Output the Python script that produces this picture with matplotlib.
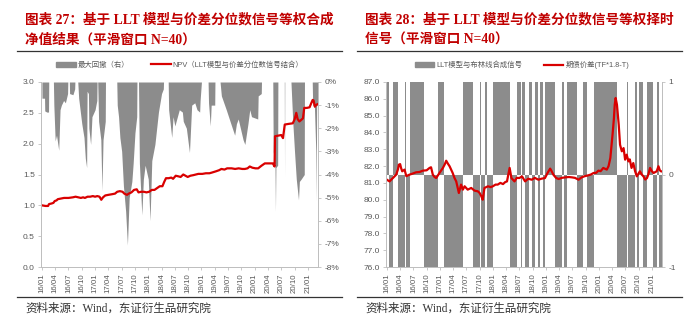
import numpy as np
import matplotlib.pyplot as plt
from matplotlib.patches import Patch
from matplotlib.lines import Line2D

plt.rcParams['font.family'] = ['Liberation Sans', 'Noto Sans CJK SC']

# x positions are months since 2016/01
tick_pos = [0, 3, 6, 9, 12, 15, 18, 21, 24, 27, 30, 33, 36, 39, 42, 45, 48, 51, 54, 57, 60]
tick_labels = ['16/01', '16/04', '16/07', '16/10', '17/01', '17/04', '17/07', '17/10',
               '18/01', '18/04', '18/07', '18/10', '19/01', '19/04', '19/07', '19/10',
               '20/01', '20/04', '20/07', '20/10', '21/01']

# chart 27: NPV
npv_t = [0.0, 0.8, 1.4, 1.6, 2.2, 2.6, 2.9, 3.3, 3.6, 4.3, 5.0, 6.0, 7.0, 7.6, 8.2, 8.8, 9.3, 9.7,
         10.3, 10.9, 11.5, 12.0, 12.5, 13.0, 13.4, 13.8, 14.3, 15.0, 15.8, 16.5, 17.0, 17.6, 18.2,
         18.6, 19.2, 19.6, 20.2, 20.8, 21.4, 21.8, 22.4, 23.0, 23.6, 24.2, 24.8, 25.4, 26.0, 26.6,
         27.2, 27.6, 28.0, 28.6, 29.2, 29.6, 30.2, 30.8, 31.3, 31.9, 32.4, 32.9, 33.5, 34.2, 35.3,
         36.2, 37.0, 37.8, 38.3, 39.2, 40.0, 40.5, 41.2, 41.8, 42.8, 43.6, 44.4, 45.2, 45.8, 46.4,
         46.9, 47.5, 48.2, 48.8, 49.5, 50.3, 51.2, 52.1, 52.5, 52.6, 53.3, 54.0, 54.4, 54.8, 55.6,
         56.6, 57.0, 57.4, 57.7, 58.1, 58.9, 59.2, 59.8, 60.4, 60.8, 61.1, 61.3, 61.6, 61.9, 62.2]
npv_v = [1.00, 0.99, 0.99, 1.02, 1.03, 1.04, 1.07, 1.08, 1.10, 1.11, 1.12, 1.12, 1.13, 1.14, 1.13,
         1.12, 1.13, 1.12, 1.14, 1.14, 1.15, 1.14, 1.15, 1.14, 1.09, 1.13, 1.16, 1.17, 1.18, 1.19,
         1.22, 1.23, 1.22, 1.19, 1.17, 1.19, 1.21, 1.25, 1.26, 1.21, 1.22, 1.22, 1.21, 1.22, 1.25,
         1.25, 1.28, 1.31, 1.31, 1.38, 1.44, 1.44, 1.45, 1.43, 1.48, 1.47, 1.46, 1.50, 1.48, 1.46,
         1.48, 1.49, 1.51, 1.51, 1.52, 1.52, 1.53, 1.55, 1.57, 1.59, 1.58, 1.60, 1.60, 1.59, 1.60,
         1.59, 1.59, 1.60, 1.63, 1.61, 1.60, 1.60, 1.64, 1.68, 1.68, 1.68, 1.63, 2.12, 2.13, 2.14,
         2.09, 2.31, 2.32, 2.33, 2.39, 2.50, 2.40, 2.36, 2.41, 2.58, 2.58, 2.59, 2.66, 2.71, 2.70,
         2.60, 2.63, 2.64]

# chart 27: max drawdown (%)
dd_t = [0.0, 0.02, 0.6, 0.65, 1.1, 1.5, 1.55,
        2.6, 2.7, 3.0, 3.3, 3.8, 4.1, 4.4, 4.9, 5.3, 5.8, 5.85,
        6.2, 6.25, 7.0, 7.4, 7.45,
        8.1, 8.3, 9.0, 9.5, 9.8, 10.1, 10.2, 10.5, 10.6, 11.0, 11.3, 12.0, 12.4, 12.45,
        12.6, 12.8, 13.3, 13.55, 13.8, 14.3, 14.35,
        16.9, 17.0, 17.3, 17.6, 18.0, 18.4, 18.9, 19.3, 19.5, 19.7, 20.3, 20.6, 21.0, 21.4, 21.45,
        21.8, 22.0, 22.55, 22.9, 23.3, 24.0, 24.4, 24.8, 25.5, 26.3, 27.0, 27.4, 27.45,
        28.5, 28.6, 29.3, 29.6, 30.0, 31.0, 31.7, 31.9, 32.6, 33.3, 33.8, 34.5, 35.0, 35.6, 35.7, 36.0,
        37.5, 37.6, 38.0, 38.2, 39.0, 39.05,
        40.2, 40.5, 41.6, 42.8, 43.5, 43.9, 44.3, 45.4, 45.8, 46.5, 46.9, 47.3, 48.7, 48.8, 49.5, 49.55,
        52.1, 52.2, 52.6, 52.7, 52.8, 53.2, 53.25,
        54.7, 54.75, 54.8,
        56.2, 56.6, 57.0, 57.4, 57.9, 58.1, 58.5, 59.2, 59.25,
        61.0, 61.1, 61.5, 61.8, 61.9, 62.0, 62.2]
dd_v = [0, -0.7, -0.7, -1.25, -1.3, -1.3, 0,
        0, -1.0, -2.55, -2.3, -2.95, -1.2, -1.0, -0.8, -0.9, -0.5, 0,
        0, -0.5, -0.55, -0.3, 0,
        0, -0.7, -1.8, -2.4, -3.3, -3.7, -0.4, -0.5, -2.0, -2.7, -1.5, -1.2, -0.8, 0,
        0, -1.7, -2.5, -4.7, -2.5, -1.7, 0,
        0, -1.0, -1.5, -2.4, -3.0, -4.5, -5.6, -7.05, -6.0, -5.0, -4.3, -3.5, -2.2, -1.5, 0,
        0, -3.5, -5.75, -4.2, -3.6, -4.2, -6.0, -3.4, -2.7, -1.3, -0.5, -0.3, 0,
        0, -1.2, -2.4, -1.5, -1.9, -1.2, -1.3, -1.7, -2.0, -3.05, -1.0, -0.9, -1.2, -1.3, -0.8, 0,
        0, -0.9, -1.9, -1.0, -1.0, 0,
        0, -0.6, -1.2, -1.9, -2.3, -1.8, -1.6, -2.5, -2.7, -1.8, -1.2, -1.5, -1.6, -0.6, -0.5, 0,
        0, -3.0, -3.7, -5.6, -3.7, -3.6, 0,
        0, -4.1, 0,
        0, -1.7, -3.0, -4.2, -5.1, -4.3, -4.2, -4.0, 0,
        0, -1.0, -1.1, -3.0, -5.15, -1.0, -1.0]

# chart 28: TF*1.8-T spread
spread_t = [0.0, 0.6, 1.0, 1.36, 2.1, 2.5, 2.7, 3.0, 3.2, 3.47, 4.0, 4.4, 5.1, 5.8, 6.6, 7.4, 8.15,
            9.0, 9.66, 10.0, 10.4, 10.8, 11.17, 11.9, 12.68, 13.1, 13.43, 13.8, 14.2, 14.9, 15.3,
            15.7, 16.0, 16.3, 16.8, 17.2, 17.6, 18.3, 19.1, 19.85, 20.6, 21.0, 21.4, 21.7, 22.1,
            22.9, 23.5, 24.0, 24.6, 25.1, 25.7, 26.3, 26.8, 27.2, 27.5, 27.8, 28.2, 28.9, 29.4,
            30.0, 30.6, 31.3, 32.0, 32.8, 33.5, 34.3, 35.0, 35.8, 36.4, 36.97, 37.3, 37.7, 38.3,
            38.9, 39.6, 40.4, 41.2, 41.9, 42.6, 43.4, 44.1, 44.8, 45.6, 46.2, 46.8, 47.4, 47.9,
            48.4, 49.0, 49.8, 50.2, 50.6, 51.1, 51.4, 51.6, 51.8, 52.1, 52.5, 52.8, 53.2, 53.6,
            53.95, 54.3, 54.7, 55.0, 55.4, 55.8, 56.2, 56.6, 57.3, 57.7, 58.1, 58.5, 58.9, 59.2,
            59.6, 60.0, 60.4, 61.1, 61.5, 61.8, 62.1]
spread_v = [81.19, 81.09, 81.2, 81.29, 81.49, 81.8, 82.08, 82.12, 81.9, 81.69, 81.79, 81.40, 81.49,
            81.55, 81.63, 81.65, 81.73, 81.75, 81.89, 81.93, 81.49, 81.35, 81.29, 81.59, 81.89, 82.1,
            82.32, 82.15, 81.99, 81.59, 81.3, 81.09, 80.75, 80.4, 80.9, 80.6, 80.8, 80.6, 80.7, 80.54,
            80.5, 80.4, 80.2, 80.0, 80.7, 80.8, 80.75, 80.8, 80.9, 80.9, 81.0, 80.93, 81.05, 81.09,
            81.5, 81.89, 81.29, 81.09, 81.3, 81.29, 81.39, 81.09, 81.25, 81.19, 81.3, 81.19, 81.25,
            81.29, 81.6, 81.85, 81.7, 81.49, 81.3, 81.23, 81.3, 81.33, 81.35, 81.33, 81.3, 81.19,
            81.33, 81.4, 81.45, 81.5, 81.59, 81.6, 81.73, 81.7, 81.89, 81.79, 82.0, 82.48, 83.87,
            84.8, 85.65, 86.05, 85.65, 84.46, 83.27, 82.88, 83.07, 82.38, 82.68, 82.28, 82.4, 81.89,
            82.18, 81.7, 81.39, 81.69, 81.5, 81.39, 81.2, 81.29, 81.5, 81.89, 81.7, 81.59, 81.69,
            81.99, 81.75, 81.69]

# chart 28: LLT + Bollinger combined signal (segment start, value)
sig_start = [0.0, 0.5, 1.4, 2.6, 4.0, 4.4, 5.3, 8.4, 11.5, 13.0, 17.3, 19.4, 21.0, 21.4, 22.2,
             22.7, 24.1, 27.9, 29.5, 30.4, 30.6, 31.3, 32.1, 32.8, 33.6, 34.3, 34.7, 35.3, 35.8,
             38.1, 39.6, 40.2, 40.8, 43.1, 44.3, 45.4, 46.8, 52.1, 54.4, 54.6, 56.2, 56.6, 57.1,
             57.9, 59.0, 60.3, 61.1, 61.6]
sig_val = [1, -1, 1, -1, 1, -1, 1, -1, 1, -1, 1, -1, 1, -1, 1,
           -1, 1, -1, 1, -1, 1, -1, 1, -1, 1, -1, 1, -1, 1,
           -1, 1, -1, 1, -1, 1, -1, 1, -1, 1, -1, 1, -1, 1,
           -1, 1, -1, 1, -1]
sig_end = 62.2

GRAY = '#8c8c8c'
RED = '#d90000'
TITLE_RED = '#c00000'
TXT = '#595959'
AXC = '#bfbfbf'
SERIF = ['Liberation Serif', 'Noto Sans CJK SC']

W, H = 699, 328
fig = plt.figure(figsize=(W / 100, H / 100), dpi=100)


def box(x0, y0, x1, y1):
    return [x0 / W, 1 - y1 / H, (x1 - x0) / W, (y1 - y0) / H]


def style(ax, twin):
    for a in (ax, twin):
        for s in a.spines.values():
            s.set_color(AXC)
            s.set_linewidth(0.7)
        a.tick_params(direction='out', length=2.5, width=0.6, color=AXC,
                      labelcolor=TXT, labelsize=6, pad=2)
    twin.spines['top'].set_visible(False)
    ax.spines['top'].set_visible(False)
    ax.set_xticks(tick_pos)
    ax.set_xticklabels(tick_labels, rotation=90, fontsize=5.7)
    ax.set_xlim(-0.2, 62.3)


def header(x, lines, rule):
    fig.text(x / W, 1 - 20 / H, lines[0], color=TITLE_RED, fontsize=9.8,
             fontweight='bold', family=SERIF, va='center', ha='left')
    fig.text(x / W, 1 - 40 / H, lines[1], color=TITLE_RED, fontsize=9.8,
             fontweight='bold', family=SERIF, va='center', ha='left')
    fig.add_artist(Line2D([rule[0] / W, rule[1] / W], [1 - 51 / H] * 2, color='#333333', lw=0.9))
    fig.add_artist(Line2D([rule[0] / W, rule[1] / W], [1 - 297 / H] * 2, color='#333333', lw=0.9))
    fig.text(x / W, 1 - 309 / H, '资料来源：Wind，东证衍生品研究院', color='#333333',
             fontsize=8.3, family=SERIF, va='center', ha='left')


# ---- left: chart 27
ax1 = fig.add_axes(box(41, 82, 318, 267))
ax1r = ax1.twinx()
ax1r.fill_between(dd_t, dd_v, 0, color=GRAY, lw=0)
ax1r.set_ylim(-8, 0)
ax1r.set_yticks(range(0, -9, -1))
ax1r.set_yticklabels([f'{v}%' for v in range(0, -9, -1)])
ax1.plot(npv_t, npv_v, color=RED, lw=1.6)
ax1.set_ylim(0, 3)
ax1.set_yticks(np.arange(0, 3.01, 0.5))
ax1.set_yticklabels([f'{v:.1f}' for v in np.arange(0, 3.01, 0.5)])
ax1.set_zorder(ax1r.get_zorder() + 1)
ax1.patch.set_visible(False)
style(ax1, ax1r)

h1 = [Patch(color=GRAY), Line2D([], [], color=RED, lw=1.6)]
fig.legend(h1, ['最大回撤（右）', 'NPV（LLT模型与价差分位数信号结合）'], loc='center',
           bbox_to_anchor=(180 / W, 1 - 65 / H), ncol=2, frameon=False, fontsize=5.3,
           handlelength=2.6, handleheight=0.6, columnspacing=3.0, handletextpad=0.3,
           labelcolor=TXT)

header(25, ['图表 27：基于 LLT 模型与价差分位数信号等权合成', '净值结果（平滑窗口 N=40）'], (17, 342))

# ---- right: chart 28
ax2 = fig.add_axes(box(386, 82, 662, 267))
ax2r = ax2.twinx()
bounds = list(sig_start) + [sig_end]
widths = np.diff(bounds)
ax2r.bar(sig_start, sig_val, width=widths, align='edge', color=GRAY, lw=0)
ax2r.set_ylim(-1, 1)
ax2r.set_yticks([-1, 0, 1])
ax2r.set_yticklabels(['-1', '0', '1'])
ax2.plot(spread_t, spread_v, color=RED, lw=1.6)
ax2.set_ylim(76, 87)
ax2.set_yticks(range(76, 88))
ax2.set_yticklabels([f'{v:.1f}' for v in range(76, 88)])
ax2.set_zorder(ax2r.get_zorder() + 1)
ax2.patch.set_visible(False)
style(ax2, ax2r)

h2 = [Patch(color=GRAY), Line2D([], [], color=RED, lw=1.6)]
fig.legend(h2, ['LLT模型与布林线合成信号', '期债价差(TF*1.8-T)'], loc='center',
           bbox_to_anchor=(522 / W, 1 - 65 / H), ncol=2, frameon=False, fontsize=5.3,
           handlelength=2.6, handleheight=0.6, columnspacing=3.0, handletextpad=0.3,
           labelcolor=TXT)

header(365, ['图表 28：基于 LLT 模型与价差分位数信号等权择时', '信号（平滑窗口 N=40）'], (357, 682))

fig.savefig('out.png', dpi=100)
